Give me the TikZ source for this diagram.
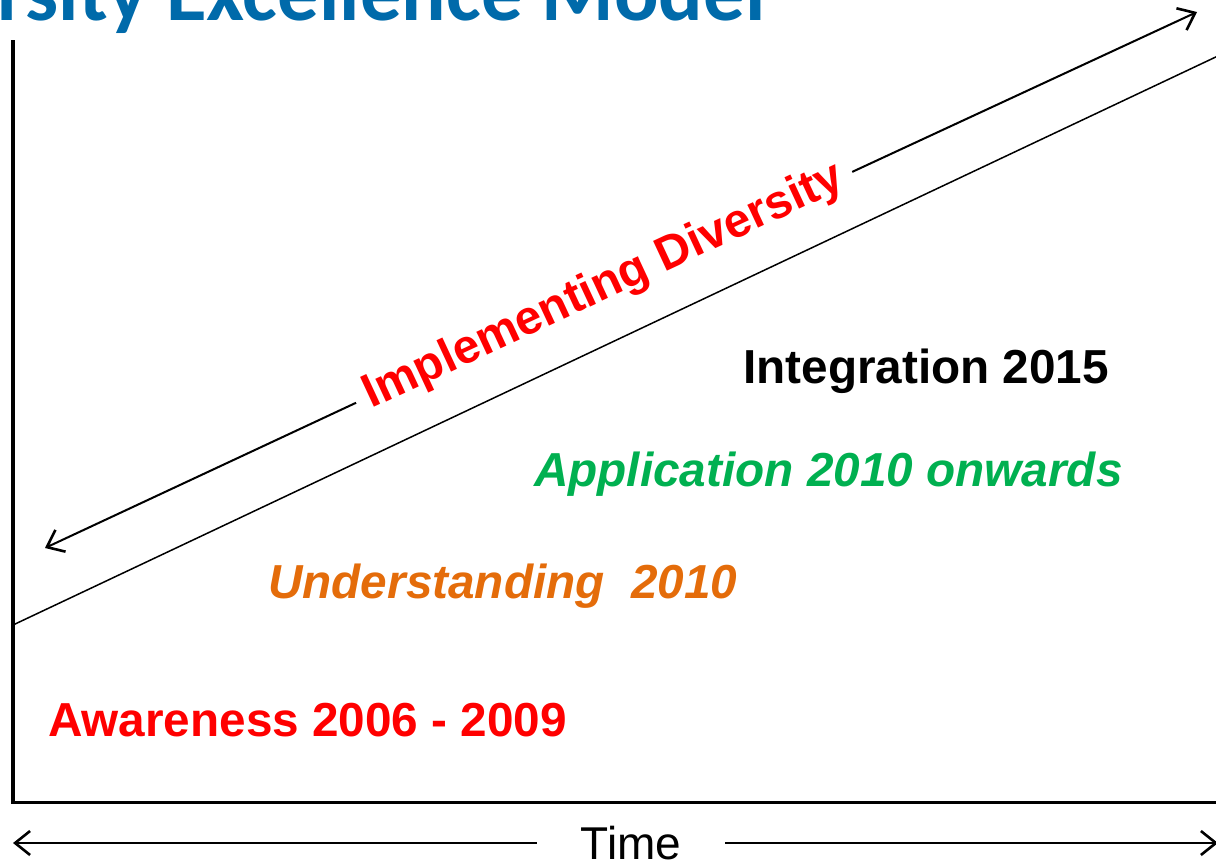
\documentclass[tikz,border=0pt]{standalone}
\usepackage{fontspec}
\setmainfont{Liberation Sans}
\newfontfamily\titlefont{Carlito}
\usetikzlibrary{arrows.meta}
\definecolor{titleblue}{RGB}{0,106,170}
\definecolor{appgreen}{RGB}{0,176,80}
\definecolor{undorange}{RGB}{228,108,10}
\definecolor{awred}{RGB}{255,0,0}
\begin{document}
\begin{tikzpicture}[x=1pt,y=-1pt,
  lbl/.style={font=\fontsize{47.7}{50}\selectfont\bfseries, anchor=base west, inner sep=0pt},
  axis/.style={line width=3.5pt, line join=miter},
  arr/.style={line width=2pt, -{Straight Barb[length=15pt,width=24pt,line width=2.6pt]}}]
\useasboundingbox (0,0) rectangle (1216,865);
\clip (0,0) rectangle (1216,865);
% title (cut at top and left)
\node[font=\titlefont\fontsize{83}{87}\selectfont\bfseries, text=titleblue, anchor=base west, inner sep=0pt] (title) at (-3,20) {rsity Excellence Model};
% axes
\coordinate (ytop) at (13,40);
\coordinate (origin) at (13,802.5);
\coordinate (xend) at (1220,802.5);
\draw[axis] (ytop) -- (origin) -- (xend);
% thin diagonal
\coordinate (d1) at (13,625);
\coordinate (d2) at (1220,55);
\draw[line width=1.5pt] (d1) -- (d2);
% implementing arrow
\coordinate (ia) at (45,548);
\coordinate (ib) at (1197,12);
\node[font=\fontsize{47.7}{50}\selectfont\bfseries, text=awred, rotate=24.95, inner xsep=11pt, inner ysep=2pt] (impl) at (604,287) {Implementing Diversity};
\draw[arr] (impl) -- (ia);
\draw[arr] (impl) -- (ib);
% time arrow
\coordinate (tl) at (13,843);
\coordinate (tr) at (1218,843);
\node[font=\fontsize{46}{48}\selectfont, inner xsep=44pt, inner ysep=0pt] (time) at (631,843) {Time};
\draw[arr] (time) -- (tl);
\draw[arr] (time) -- (tr);
% stage labels
\node[lbl, text=black] (integ) at (743,383) {Integration 2015};
\node[lbl, text=appgreen, font=\fontsize{47.7}{50}\selectfont\bfseries\itshape] (app) at (534,486) {Application 2010 onwards};
\node[lbl, text=undorange, font=\fontsize{47.7}{50}\selectfont\bfseries\itshape] (und) at (268,598) {Understanding\ \ 2010};
\node[lbl, text=awred] (aw) at (48,736) {Awareness 2006 - 2009};
\end{tikzpicture}
\end{document}
